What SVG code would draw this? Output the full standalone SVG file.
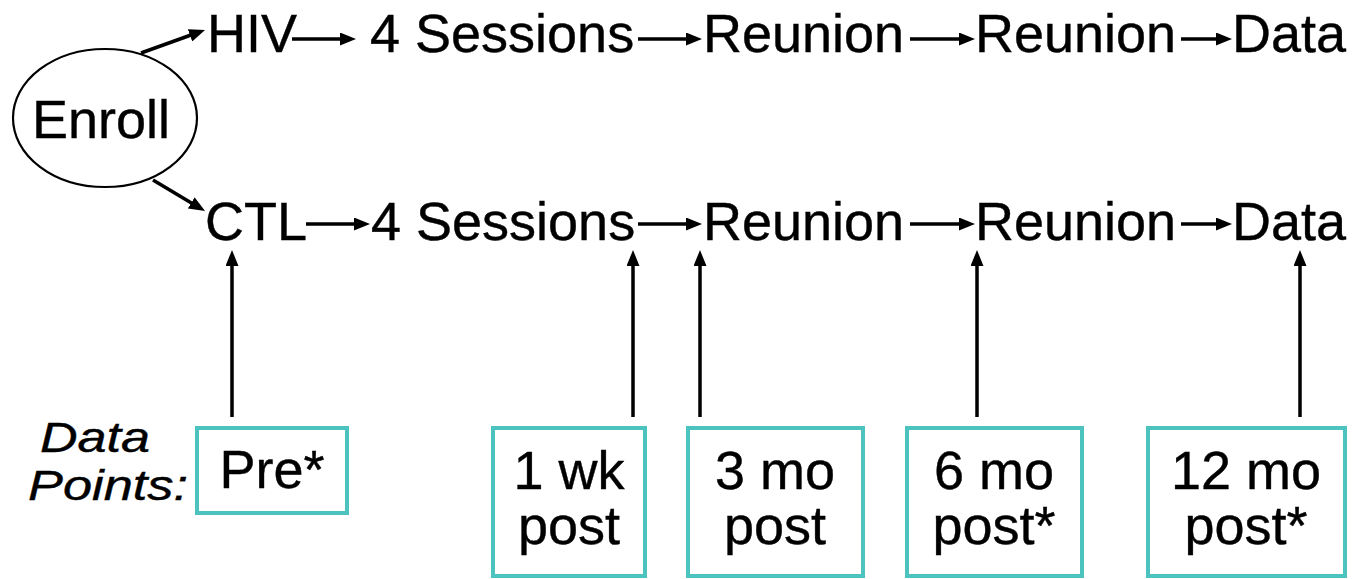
<svg xmlns="http://www.w3.org/2000/svg" width="1356" height="579" viewBox="0 0 1356 579">
<defs>
<style>
.t{font-family:"Liberation Sans",Arial,sans-serif;font-size:54px;fill:#000;stroke:#000;stroke-width:0.4}
.it{font-family:"Liberation Sans",Arial,sans-serif;font-size:42px;font-style:italic;fill:#000;stroke:#000;stroke-width:0.4}
.c{text-anchor:middle}
.ln{stroke:#000;stroke-width:3.5;fill:none;marker-end:url(#ah)}
.box{fill:#fff;stroke:#4cc3bf;stroke-width:4}
</style>
<marker id="ah" viewBox="0 0 16 13" refX="7" refY="6.5" markerWidth="16" markerHeight="13" markerUnits="userSpaceOnUse" orient="auto">
<path d="M0,0 L16,6.5 L0,13 z" fill="#000"/>
</marker>
</defs>
<rect width="1356" height="579" fill="#fff"/>

<g id="enroll">
<ellipse cx="105" cy="118" rx="92" ry="69" fill="#fff" stroke="#000" stroke-width="2.2"/>
<text class="t c" x="101" y="138">Enroll</text>
</g>

<g id="row-hiv">
<text class="t" x="207" y="52">HIV</text>
<text class="t" x="370" y="52">4 Sessions</text>
<text class="t" x="703" y="52">Reunion</text>
<text class="t" x="975" y="52">Reunion</text>
<text class="t" x="1232" y="52">Data</text>
</g>

<g id="row-ctl">
<text class="t" x="205" y="240">CTL</text>
<text class="t" x="371" y="240">4 Sessions</text>
<text class="t" x="703" y="240">Reunion</text>
<text class="t" x="975" y="240">Reunion</text>
<text class="t" x="1232" y="240">Data</text>
</g>

<g id="label-datapoints">
<text class="it" x="40" y="452" textLength="110" lengthAdjust="spacingAndGlyphs">Data</text>
<text class="it" x="28" y="500" textLength="160" lengthAdjust="spacingAndGlyphs">Points:</text>
</g>

<g id="box-pre">
<rect class="box" x="197" y="428" width="150" height="85"/>
<text class="t c" x="272" y="488">Pre*</text>
</g>
<g id="box-1wk">
<rect class="box" x="493" y="428" width="152" height="148"/>
<text class="t c" x="569" y="489">1 wk</text>
<text class="t c" x="569" y="544">post</text>
</g>
<g id="box-3mo">
<rect class="box" x="688" y="428" width="175" height="148"/>
<text class="t c" x="775" y="489">3 mo</text>
<text class="t c" x="775" y="544">post</text>
</g>
<g id="box-6mo">
<rect class="box" x="907" y="428" width="175" height="148"/>
<text class="t c" x="994" y="489">6 mo</text>
<text class="t c" x="994" y="544">post*</text>
</g>
<g id="box-12mo">
<rect class="box" x="1148" y="428" width="197" height="148"/>
<text class="t c" x="1246" y="489">12 mo</text>
<text class="t c" x="1246" y="544">post*</text>
</g>

<g id="connectors">
<line class="ln" x1="141" y1="53" x2="196.6" y2="33.0"/>
<line class="ln" x1="153" y1="180" x2="197.3" y2="206.4"/>
<line class="ln" x1="292" y1="39" x2="347" y2="39"/>
<line class="ln" x1="638" y1="39" x2="693" y2="39"/>
<line class="ln" x1="910" y1="39" x2="966" y2="39"/>
<line class="ln" x1="1181" y1="39" x2="1223" y2="39"/>
<line class="ln" x1="306" y1="224" x2="361" y2="224"/>
<line class="ln" x1="638" y1="224" x2="693" y2="224"/>
<line class="ln" x1="910" y1="224" x2="966" y2="224"/>
<line class="ln" x1="1181" y1="224" x2="1223" y2="224"/>
<line class="ln" x1="232" y1="417" x2="232" y2="259"/>
<line class="ln" x1="633" y1="417" x2="633" y2="259"/>
<line class="ln" x1="700" y1="417" x2="700" y2="259"/>
<line class="ln" x1="977" y1="417" x2="977" y2="259"/>
<line class="ln" x1="1300" y1="417" x2="1300" y2="259"/>
</g>
</svg>
